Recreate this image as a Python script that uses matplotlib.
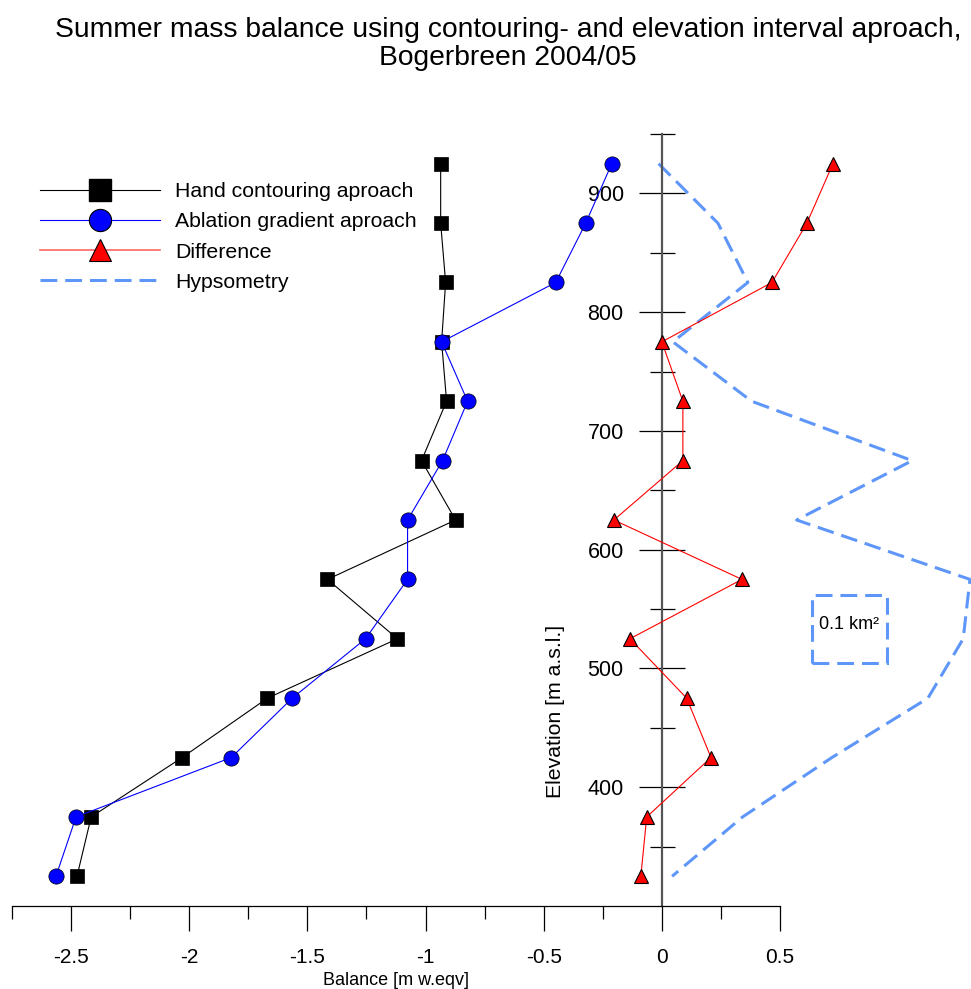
import matplotlib
matplotlib.use("Agg")
import matplotlib.pyplot as plt
from matplotlib.lines import Line2D
from matplotlib.patches import Rectangle
from matplotlib.ticker import FixedLocator, MultipleLocator
import numpy as np

plt.rcParams['font.family'] = ['Liberation Sans', 'DejaVu Sans']

# elevation bands (m a.s.l.), top to bottom
elev = [925, 875, 825, 775, 725, 675, 625, 575, 525, 475, 425, 375, 325]

# summer balance per band [m w.eq.]
hand = [-0.936, -0.936, -0.915, -0.932, -0.911, -1.017, -0.873,
        -1.415, -1.119, -1.669, -2.030, -2.415, -2.475]
ablation = [-0.212, -0.322, -0.449, -0.932, -0.822, -0.928, -1.076,
            -1.076, -1.254, -1.564, -1.822, -2.479, -2.564]
diff = [0.724, 0.614, 0.466, 0.0, 0.089, 0.089, -0.203,
        0.339, -0.135, 0.105, 0.208, -0.064, -0.089]

# area per band [km2]
hyps = [0.001, 0.080, 0.120, 0.020, 0.125, 0.339, 0.185,
        0.416, 0.407, 0.360, 0.232, 0.113, 0.019]

# hypsometry is drawn on the balance axis: 0.1 km2 -> 0.3175 units
hyps_origin = -0.017
hyps_scale = 0.3175 / 0.1
hyps_x = hyps_origin + np.array(hyps) * hyps_scale

hyps_color = '#5f96fa'
hyps_ls = (0, (5.5, 2.6))

fig = plt.figure(figsize=(9.71, 9.89), dpi=100)
ax = fig.add_axes([12 / 971, 1 - 906 / 989, 768 / 971, 772 / 989])

ax.plot(hyps_x, elev, color=hyps_color, lw=2.2, ls=hyps_ls, clip_on=False, zorder=1)
ax.plot(hand, elev, color='black', lw=0.8, marker='s', ms=10,
        mfc='black', mec='black', mew=0.5, clip_on=False, zorder=3)
ax.plot(ablation, elev, color='blue', lw=0.8, marker='o', ms=11,
        mfc='blue', mec='black', mew=0.5, clip_on=False, zorder=4)
ax.plot(diff, elev, color='red', lw=0.8, marker='^', ms=10,
        mfc='red', mec='black', mew=0.8, clip_on=False, zorder=5)

# scale box for the hypsometry
box = Rectangle((0.635, 505), 0.1 * hyps_scale, 57, fill=False,
                ec=hyps_color, lw=2.2, ls=hyps_ls, clip_on=False)
ax.add_patch(box)
ax.text(0.635 + 0.05 * hyps_scale, 537, '0.1 km²', ha='center', va='center',
        fontsize=13)

ax.set_xlim(-2.75, 0.5)
ax.set_ylim(300, 950)

ax.spines['top'].set_visible(False)
ax.spines['right'].set_visible(False)
ax.spines['left'].set_position(('data', 0))
ax.spines['left'].set_color('#555555')
ax.spines['left'].set_linewidth(1.6)
ax.spines['left'].set_zorder(2)
ax.spines['bottom'].set_linewidth(0.9)

ax.xaxis.set_major_locator(FixedLocator([-2.5, -2, -1.5, -1, -0.5, 0, 0.5]))
ax.xaxis.set_minor_locator(MultipleLocator(0.25))
ax.set_xticklabels(['-2.5', '-2', '-1.5', '-1', '-0.5', '0', '0.5'])
ax.yaxis.set_major_locator(FixedLocator([400, 500, 600, 700, 800, 900]))
ax.yaxis.set_minor_locator(FixedLocator([350, 450, 550, 650, 750, 850, 950]))

ax.tick_params(axis='x', which='major', direction='out', length=18, width=0.9,
               pad=12, labelsize=15)
ax.tick_params(axis='x', which='minor', direction='out', length=9.5, width=0.9)
ax.tick_params(axis='y', which='major', direction='inout', length=33, width=0.9,
               pad=11, labelsize=15.5)
ax.tick_params(axis='y', which='minor', direction='inout', length=18, width=0.9)

ax.set_xlabel('Balance [m w.eqv]', fontsize=13, labelpad=3.5)
ax.text(555 / 971, 1 - 711 / 989, 'Elevation [m a.s.l.]', transform=fig.transFigure,
        rotation=90, ha='center', va='center', fontsize=15.3)

fig.text(508 / 971, 1 - 44 / 989,
         'Summer mass balance using contouring- and elevation interval aproach,\nBogerbreen 2004/05',
         ha='center', va='center', fontsize=20.3, linespacing=1.12)

handles = [
    Line2D([], [], color='black', lw=0.8, marker='s', ms=16, mfc='black', mec='black'),
    Line2D([], [], color='blue', lw=0.8, marker='o', ms=16, mfc='blue', mec='black', mew=0.8),
    Line2D([], [], color='#ff6666', lw=1.2, marker='^', ms=16, mfc='red', mec='black', mew=0.8),
    Line2D([], [], color=hyps_color, lw=2.2, ls=hyps_ls),
]
labels = ['Hand contouring aproach', 'Ablation gradient aproach', 'Difference', 'Hypsometry']
fig.legend(handles, labels, loc='upper left', bbox_to_anchor=(40 / 971, 1 - 182 / 989),
           frameon=False, fontsize=15.3, handlelength=5.65, handletextpad=0.7,
           labelspacing=0.53, borderpad=0, borderaxespad=0)

fig.savefig('out.png', dpi=100)
